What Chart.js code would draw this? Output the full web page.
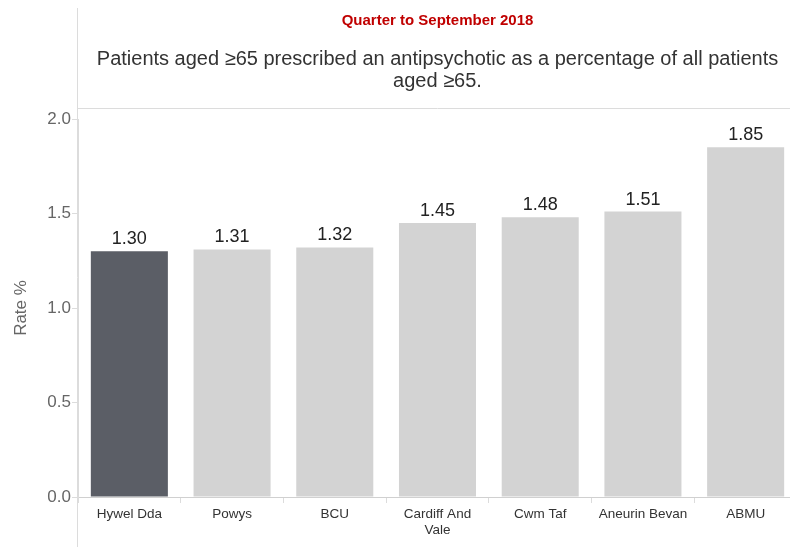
<!DOCTYPE html>
<html><head><meta charset="utf-8">
<script src="https://cdn.jsdelivr.net/npm/chart.js@4.4.1/dist/chart.umd.min.js"></script>
<style>html,body{margin:0;padding:0;background:#fff;overflow:hidden}#wrap{width:797px;height:547px;position:relative}</style>
</head><body><div id="wrap"><canvas id="c"></canvas></div>
<script>
const categories = ["Hywel Dda", "Powys", "BCU", ["Cardiff And", "Vale"], "Cwm Taf", "Aneurin Bevan", "ABMU"];
const rates = [1.30, 1.31, 1.32, 1.45, 1.48, 1.51, 1.85];
const barColors = ["#5b5e66", "#d3d3d3", "#d3d3d3", "#d3d3d3", "#d3d3d3", "#d3d3d3", "#d3d3d3"];
const yTicks = [0, 0.5, 1.0, 1.5, 2.0];
const subtitleText = "Quarter to September 2018";
const titleLines = ["Patients aged \u226565 prescribed an antipsychotic as a percentage of all patients", "aged \u226565."];

const FONT = "'Liberation Sans', Arial, sans-serif";

const extras = {
  id: 'extras',
  beforeDraw(chart) {
    const ctx = chart.ctx, a = chart.chartArea;
    ctx.save();
    ctx.strokeStyle = '#dcdcdc';
    ctx.lineWidth = 1;
    ctx.beginPath();
    ctx.moveTo(a.left - 0.5, 8); ctx.lineTo(a.left - 0.5, chart.height);
    ctx.moveTo(a.left, a.top - 10.5); ctx.lineTo(chart.width, a.top - 10.5);
    ctx.stroke();
    ctx.restore();
  },
  afterDatasetsDraw(chart) {
    const ctx = chart.ctx;
    const meta = chart.getDatasetMeta(0);
    ctx.save();
    ctx.font = "18px " + FONT;
    ctx.fillStyle = '#222';
    ctx.textAlign = 'center';
    ctx.textBaseline = 'bottom';
    meta.data.forEach((bar, i) => {
      ctx.fillText(rates[i].toFixed(2), bar.x, bar.y - 3);
    });
    ctx.restore();
  }
};

new Chart(document.getElementById('c'), {
  type: 'bar',
  data: {
    labels: categories,
    datasets: [{ data: rates, backgroundColor: barColors, barPercentage: 0.75, categoryPercentage: 1.0 }]
  },
  options: {
    responsive: true, maintainAspectRatio: false, animation: false,
    layout: { padding: { left: 11, right: 0, top: 0, bottom: 0 } },
    plugins: {
      legend: { display: false },
      tooltip: { enabled: false },
      title: { display: true, text: subtitleText, color: '#c00000', fullSize: false,
        font: { family: "'Liberation Sans Narrow', 'Liberation Sans', Arial, sans-serif", size: 15, weight: 'bold', lineHeight: 1.2 },
        padding: { top: 12, bottom: 18 } },
      subtitle: { display: true, text: titleLines, color: '#333', fullSize: false,
        font: { family: FONT, size: 20, lineHeight: 1.1 },
        padding: { top: 0, bottom: 27 } }
    },
    scales: {
      x: {
        grid: { offset: true, drawOnChartArea: false, drawTicks: true, tickLength: 6, color: '#dcdcdc' },
        border: { color: '#d0d0d0' },
        ticks: { color: '#333', font: { family: FONT, size: 13.5 }, maxRotation: 0, padding: 3 },
        afterFit(s) { s.height = 50; }
      },
      y: {
        min: 0, max: 2.0,
        afterBuildTicks(s) { s.ticks = yTicks.map(v => ({ value: v })); },
        grid: { drawOnChartArea: false, drawTicks: true, tickLength: 6, color: '#dcdcdc' },
        border: { color: '#dcdcdc' },
        ticks: { color: '#666', font: { family: FONT, size: 17 }, padding: 1, callback: v => v.toFixed(1) },
        title: { display: true, text: 'Rate %', color: '#666', font: { family: FONT, size: 17 }, padding: 0 },
        afterFit(s) { s.width = 67; }
      }
    }
  },
  plugins: [extras]
});
</script></body></html>
